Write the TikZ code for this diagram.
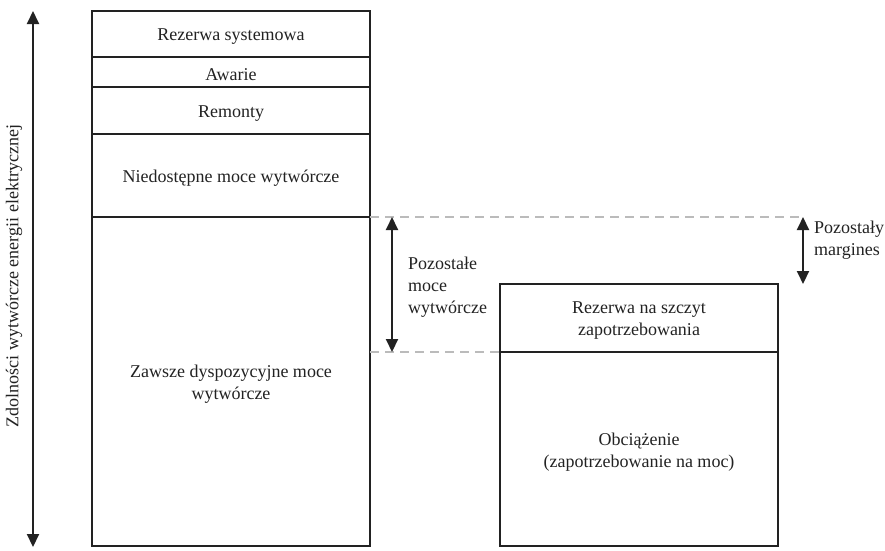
\documentclass[tikz,border=0pt]{standalone}
\usepackage{fontspec}
\setmainfont{Liberation Serif}
\usetikzlibrary{arrows.meta}
\definecolor{ink}{HTML}{222222}
\definecolor{guide}{HTML}{BBBBBB}
\begin{document}
\begin{tikzpicture}[x=1pt,y=-1pt,
  every node/.style={text=ink,font=\fontsize{18}{22}\selectfont},
  block/.style={draw=ink,line width=1.8pt,rectangle,minimum width=278pt,anchor=north west,inner sep=0pt,outer sep=0pt},
  blocktext/.style={yshift=-3pt,align=center,inner sep=0pt},
  dblarrow/.style={draw=ink,line width=2pt,{Triangle[width=12pt,length=13pt]}-{Triangle[width=12pt,length=13pt]}},
  guideline/.style={draw=guide,line width=1.6pt,dash pattern=on 9pt off 6pt}]
\useasboundingbox (0,0) rectangle (885,550);

% generating capacity column
\node[block,minimum height=46pt,label={[blocktext]center:Rezerwa systemowa}] (rs) at (92,11) {};
\node[block,minimum height=30pt,label={[blocktext]center:Awarie}] (aw) at (92,57) {};
\node[block,minimum height=47pt,label={[blocktext]center:Remonty}] (rem) at (92,87) {};
\node[block,minimum height=83pt,label={[blocktext]center:Niedostępne moce wytwórcze}] (nied) at (92,134) {};
\node[block,minimum height=329pt,label={[blocktext]center:Zawsze dyspozycyjne moce\\wytwórcze}] (zaw) at (92,217) {};

% demand column
\node[block,minimum height=68pt,label={[blocktext]center:Rezerwa na szczyt\\zapotrzebowania}] (rez) at (500,284) {};
\node[block,minimum height=194pt,label={[blocktext]center:Obciążenie\\(zapotrzebowanie na moc)}] (obc) at (500,352) {};

% vertical axis
\coordinate (axtop) at (33,11);
\coordinate (axbot) at (33,547);
\draw[dblarrow] (axtop) -- (axbot);
\node[rotate=90] (axlabel) at (14,276) {Zdolności wytwórcze energii elektrycznej};

% guide lines
\coordinate (gtop) at (803,217);
\draw[guideline] (nied.south east) -- (gtop);
\draw[guideline] (zaw.east |- rez.south west) -- (rez.south west);

% remaining capacity
\coordinate (pmtop) at (392,217);
\coordinate (pmbot) at (392,352);
\draw[dblarrow] (pmtop) -- (pmbot);
\node[anchor=west,align=left,inner sep=0pt] (pmlabel) at (408,287) {Pozostałe\\moce\\wytwórcze};

% remaining margin
\coordinate (mgbot) at (803,284);
\draw[dblarrow] (gtop) -- (mgbot);
\node[anchor=west,align=left,inner sep=0pt] (mglabel) at (814,240) {Pozostały\\margines};
\end{tikzpicture}
\end{document}
